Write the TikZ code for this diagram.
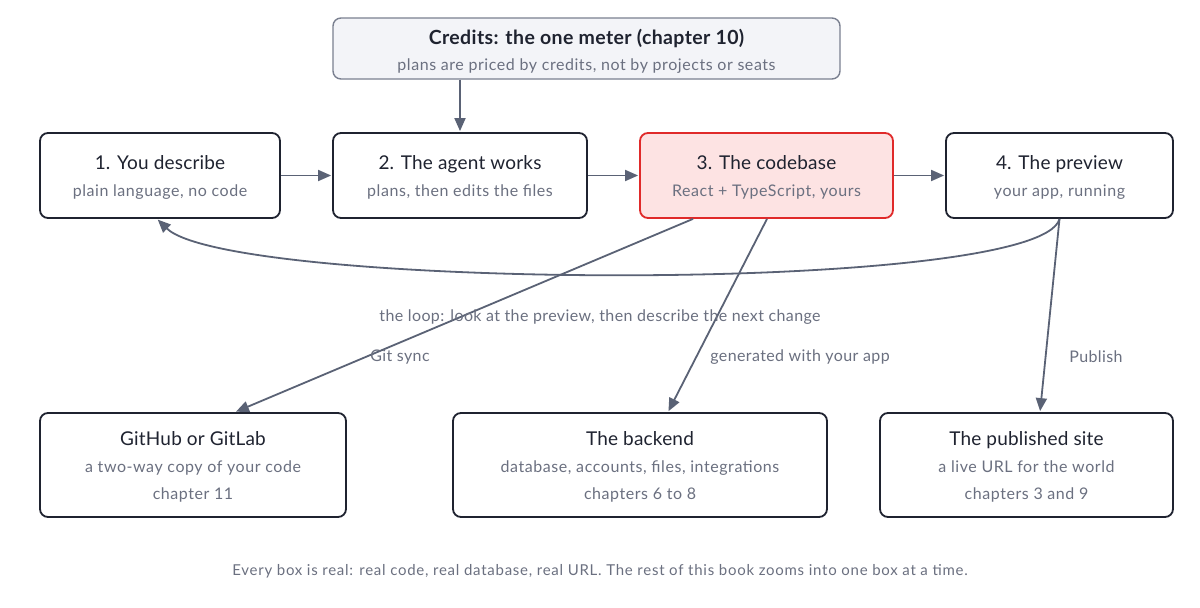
\documentclass[tikz,border=0pt]{standalone}
\usepackage{fontspec}
\setmainfont{Lato}
\usetikzlibrary{arrows.meta,calc}
\definecolor{ink}{HTML}{1F2330}
\definecolor{subg}{HTML}{6B7080}
\definecolor{edgec}{HTML}{5A6275}
\definecolor{redb}{HTML}{E02A2A}
\definecolor{redf}{HTML}{FDE3E3}
\definecolor{topf}{HTML}{F3F4F8}
\definecolor{topb}{HTML}{7A8090}
\newfontfamily\widefont[LetterSpace=3.5]{Lato}
\newfontfamily\labfont[LetterSpace=2.5]{Lato}
\newfontfamily\footfont[LetterSpace=5]{Lato}
\newfontfamily\boldwide[LetterSpace=2]{Lato Bold}
\newfontfamily\titlefont[LetterSpace=1]{Lato}
\tikzset{
  box/.style={draw=ink, line width=1.8pt, rounded corners=8pt, fill=white, align=center,
    text=ink, inner sep=0pt, font=\widefont\fontsize{16}{27}\selectfont},
  hotbox/.style={box, draw=redb, fill=redf},
  topbox/.style={box, draw=topb, fill=topf, line width=1.4pt, font=\widefont\fontsize{16}{26}\selectfont},
  conn/.style={draw=edgec, line width=1.8pt, -{Triangle[length=13pt,width=11pt]}, shorten >=1pt},
  lab/.style={text=subg, font=\labfont\fontsize{16}{18}\selectfont, inner sep=0pt},
}
\newcommand{\ttl}[1]{{\titlefont\fontsize{19}{27}\selectfont\rule{0pt}{17.5pt}#1}}
\newcommand{\btl}[1]{{\boldwide\fontsize{19.5}{26}\selectfont\rule{0pt}{21pt}#1}}
\newcommand{\sbt}[1]{{\color{subg}#1}}
\begin{document}
\begin{tikzpicture}[x=1pt,y=-1pt]
\useasboundingbox[fill=white] (0,0) rectangle (1200,608);
\node[topbox, minimum width=507pt, minimum height=61pt] (top) at (586.5,48.5)
  {\btl{Credits: the one meter (chapter 10)}\\\sbt{plans are priced by credits, not by projects or seats}};
\node[box, minimum width=240pt, minimum height=85pt] (b1) at (160,175.5)
  {\ttl{1. You describe}\\\sbt{plain language, no code}};
\node[box, minimum width=254pt, minimum height=85pt] (b2) at (460,175.5)
  {\ttl{2. The agent works}\\\sbt{plans, then edits the files}};
\node[hotbox, minimum width=253pt, minimum height=85pt] (b3) at (766.5,175.5)
  {\ttl{3. The codebase}\\\sbt{React + TypeScript, yours}};
\node[box, minimum width=227pt, minimum height=85pt] (b4) at (1059.5,175.5)
  {\ttl{4. The preview}\\\sbt{your app, running}};
\node[box, minimum width=306pt, minimum height=104pt] (gh) at (193,465)
  {\ttl{GitHub or GitLab}\\\sbt{a two-way copy of your code}\\\sbt{chapter 11}};
\node[box, minimum width=374pt, minimum height=104pt] (be) at (640,465)
  {\ttl{The backend}\\\sbt{database, accounts, files, integrations}\\\sbt{chapters 6 to 8}};
\node[box, minimum width=293pt, minimum height=104pt] (pub) at (1026.5,465)
  {\ttl{The published site}\\\sbt{a live URL for the world}\\\sbt{chapters 3 and 9}};

\draw[conn] ([xshift=-126.5pt]top.south) -- (b2.north);
\draw[conn] (b1.east) -- (b2.west);
\draw[conn] (b2.east) -- (b3.west);
\draw[conn] (b3.east) -- (b4.west);
\draw[conn] (b4.south) .. controls (1040,295) and (230,290) .. ([xshift=-3pt]b1.south);
\draw[conn] ([xshift=-73.5pt]b3.south) -- ([xshift=42pt]gh.north);
\draw[conn] ([xshift=0.5pt]b3.south) -- ([xshift=28pt]be.north);
\draw[conn] (b4.south) -- ([xshift=13.5pt]pub.north);

\node[lab] (loopl) at (600,317) {the loop: look at the preview, then describe the next change};
\node[lab] (gitl) at (400,357) {Git sync};
\node[lab] (genl) at (800,357) {generated with your app};
\node[lab] (publ) at (1096,357) {Publish};
\node[lab, font=\footfont\fontsize{15}{17}\selectfont] (foot) at (600,571)
  {Every box is real: real code, real database, real URL. The rest of this book zooms into one box at a time.};
\end{tikzpicture}
\end{document}
